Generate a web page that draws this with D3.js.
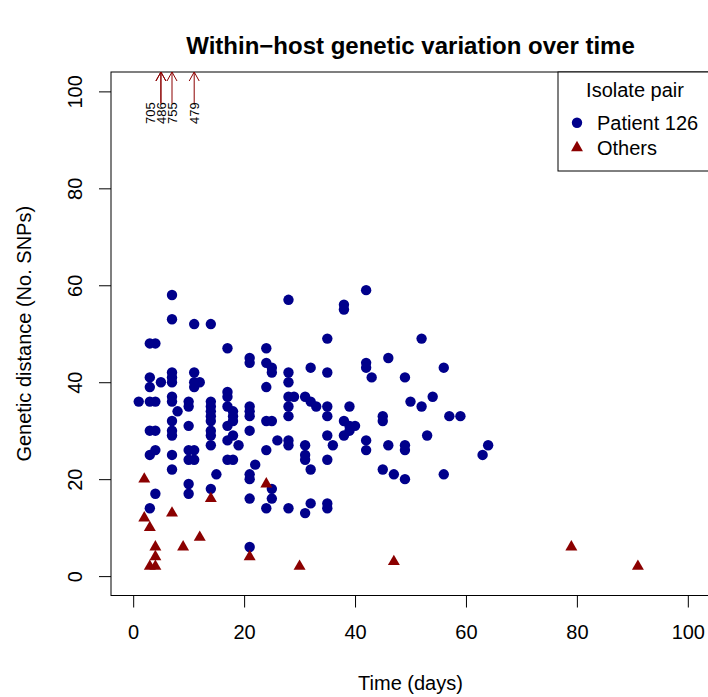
<!DOCTYPE html>
<html>
<head>
<meta charset="utf-8">
<script src="https://cdn.jsdelivr.net/npm/d3@7"></script>
<style>
	body { margin: 0; background: #fff; }
	text { font-family: "Liberation Sans", Arial, sans-serif; fill: #000; }
</style>
</head>
<body>
<script>
// Patient 126 isolate pairs: time between isolates (days) and SNP distance
var patientDays = [1,
	3, 3, 3, 3, 3, 3, 3,
	4, 4, 4, 4, 4,
	5,
	7, 7, 7, 7, 7, 7, 7, 7, 7, 7, 7, 7,
	8,
	10, 10, 10, 10, 10, 10, 10,
	11, 11, 11, 11, 11, 11,
	12,
	14, 14, 14, 14, 14, 14, 14, 14, 14, 14,
	15,
	17, 17, 17, 17, 17, 17, 17,
	18, 18, 18, 18, 18,
	19,
	21, 21, 21, 21, 21, 21, 21, 21, 21, 21,
	22,
	24, 24, 24, 24, 24, 24,
	25, 25, 25, 25, 25,
	26,
	28, 28, 28, 28, 28, 28, 28, 28, 28,
	29,
	31, 31, 31, 31, 31,
	32, 32, 32, 32,
	33,
	35, 35, 35, 35, 35, 35, 35, 35,
	36,
	38, 38, 38, 38,
	39, 39, 39,
	40,
	42, 42, 42, 42, 42,
	43,
	45, 45, 45,
	46, 46,
	47,
	49, 49, 49, 49,
	50,
	52, 52,
	53, 54, 56, 56, 57, 59, 63, 64];
var patientSnps = [36,
	48, 41, 39, 36, 30, 25, 14,
	48, 36, 30, 26, 17,
	40,
	58, 53, 42, 41, 40, 37, 36, 32, 30, 29, 25, 22,
	34,
	36, 35, 31, 26, 24, 19, 17,
	52, 42, 40, 39, 26, 24,
	40,
	52, 36, 35, 34, 33, 32, 30, 29, 27, 18,
	21,
	47, 38, 37, 35, 31, 28, 24,
	34, 33, 32, 29, 24,
	27,
	45, 44, 35, 34, 33, 30, 21, 20, 16, 6,
	23,
	47, 44, 39, 32, 26, 14,
	43, 42, 32, 18, 16,
	28,
	57, 42, 40, 37, 35, 33, 28, 27, 14,
	37,
	37, 27, 25, 24, 13,
	43, 36, 22, 15,
	35,
	49, 42, 35, 33, 29, 24, 15, 14,
	27,
	56, 55, 32, 29,
	35, 31, 30,
	31,
	59, 44, 43, 28, 26,
	41,
	33, 32, 22,
	45, 27,
	21,
	41, 27, 26, 20,
	36,
	49, 35,
	29, 37, 43, 21, 33, 33, 25, 27];

// all other patients
var otherDays = [2, 2, 3, 3, 4, 4, 4, 7, 9, 12, 14, 21, 24, 30, 47, 79, 91];
var otherSnps = [20, 12, 10, 2, 6, 4, 2, 13, 6, 8, 16, 4, 19, 2, 3, 6, 2];

// pairs beyond the y range, drawn as arrows with their value
var offDays = [5, 5, 7, 11];
var offSnps = [705, 486, 755, 479];

var xTicks = [0, 20, 40, 60, 80, 100];
var yTicks = [0, 20, 40, 60, 80, 100];
var legendLabels = ['Patient 126', 'Others'];

var width = 708, height = 697;
var plot = { left: 111, right: 710, top: 72, bottom: 595.5 };
var blue = '#00008b', red = '#8b0000';

var svg = d3.select('body').append('svg')
	.attr('width', width)
	.attr('height', height);

svg.append('rect').attr('width', width).attr('height', height).attr('fill', '#fff');

// R style 4% padding around 0..100
var x = d3.scaleLinear().domain([-4, 104]).range([plot.left, plot.right]);
var y = d3.scaleLinear().domain([-4, 104]).range([plot.bottom, plot.top]);

// axes
var xAxisEl = svg.append('g')
	.attr('transform', 'translate(0,' + plot.bottom + ')')
	.call(d3.axisBottom(x).tickValues(xTicks).tickSize(12).tickPadding(17));
xAxisEl.select('.domain').remove();
xAxisEl.selectAll('text').attr('font-size', 20).attr('font-family', null);

var yAxisEl = svg.append('g')
	.attr('transform', 'translate(' + plot.left + ',0)')
	.call(d3.axisLeft(y).tickValues(yTicks).tickSize(12));
yAxisEl.select('.domain').remove();
yAxisEl.selectAll('text')
	.attr('font-size', 20).attr('font-family', null)
	.attr('x', null).attr('dy', null)
	.attr('text-anchor', 'middle')
	.attr('transform', 'translate(-29,0) rotate(-90)');
svg.selectAll('.tick line').attr('stroke', '#000');

// plot box
svg.append('rect')
	.attr('x', plot.left).attr('y', plot.top)
	.attr('width', plot.right - plot.left).attr('height', plot.bottom - plot.top)
	.attr('fill', 'none').attr('stroke', '#000');

// points
var tri = d3.symbol().type(d3.symbolTriangle).size(62);

svg.append('g').selectAll('circle').data(patientDays).enter().append('circle')
	.attr('cx', function (d) { return x(d); })
	.attr('cy', function (d, i) { return y(patientSnps[i]); })
	.attr('r', 5.2)
	.attr('fill', blue);

svg.append('g').selectAll('path').data(otherDays).enter().append('path')
	.attr('d', tri)
	.attr('transform', function (d, i) { return 'translate(' + x(d) + ',' + y(otherSnps[i]) + ')'; })
	.attr('fill', red);

// off-scale arrows, labels nudged left when two share a day
var arrowG = svg.append('g');
offDays.forEach(function (d, i) {
	var ax = x(d);
	var y0 = y(97.5), y1 = plot.top;
	arrowG.append('path')
		.attr('d', 'M' + ax + ',' + y0 + 'V' + y1 + 'M' + (ax - 5) + ',' + (y1 + 9) + 'L' + ax + ',' + y1 + 'L' + (ax + 5) + ',' + (y1 + 9))
		.attr('fill', 'none').attr('stroke', red).attr('stroke-width', 1);
	var lx = ax;
	if (offDays[i + 1] === d) lx -= 11;
	arrowG.append('text')
		.attr('transform', 'translate(' + (lx + 4.6) + ',' + y(95.5) + ') rotate(-90)')
		.attr('text-anchor', 'middle')
		.attr('font-size', 13)
		.text(offSnps[i]);
});

// titles
svg.append('text')
	.attr('x', (plot.left + plot.right) / 2).attr('y', 54)
	.attr('text-anchor', 'middle').attr('font-size', 24).attr('font-weight', 'bold')
	.text('Within\u2212host genetic variation over time');

svg.append('text')
	.attr('x', (plot.left + plot.right) / 2).attr('y', 690)
	.attr('text-anchor', 'middle').attr('font-size', 20)
	.text('Time (days)');

svg.append('text')
	.attr('transform', 'translate(31,' + (plot.top + plot.bottom) / 2 + ') rotate(-90)')
	.attr('text-anchor', 'middle').attr('font-size', 20)
	.text('Genetic distance (No. SNPs)');

// legend
var legend = svg.append('g');
legend.append('rect')
	.attr('x', 558).attr('y', plot.top)
	.attr('width', plot.right - 558).attr('height', 171 - plot.top)
	.attr('fill', '#fff').attr('stroke', '#000');
legend.append('text')
	.attr('x', 635).attr('y', 97).attr('text-anchor', 'middle').attr('font-size', 20)
	.text('Isolate pair');
legendLabels.forEach(function (l, i) {
	var ly = 122.7 + i * 25;
	if (i === 0) {
		legend.append('circle').attr('cx', 577).attr('cy', ly).attr('r', 5.2).attr('fill', blue);
	} else {
		legend.append('path').attr('d', tri).attr('transform', 'translate(577,' + ly + ')').attr('fill', red);
	}
	legend.append('text')
		.attr('x', 597).attr('y', ly + 7).attr('font-size', 20)
		.text(l);
});
</script>
</body>
</html>
